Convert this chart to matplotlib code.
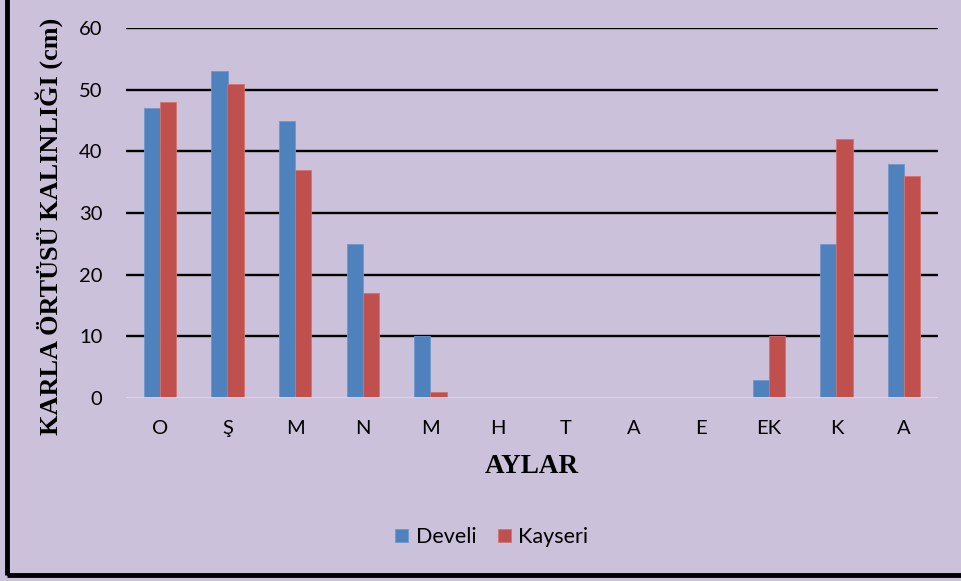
import matplotlib.pyplot as plt
import numpy as np
from matplotlib.patches import Rectangle

months = ['O', 'Ş', 'M', 'N', 'M', 'H', 'T', 'A', 'E', 'EK', 'K', 'A']
develi = [47, 53, 45, 25, 10, 0, 0, 0, 0, 3, 25, 38]
kayseri = [48, 51, 37, 17, 1, 0, 0, 0, 0, 10, 42, 36]

bg = '#CCC1DA'
blue = '#4F81BD'
red = '#C0504D'
sans = ['Lato', 'DejaVu Sans']
serif = ['Liberation Serif', 'DejaVu Serif']

fig = plt.figure(figsize=(9.61, 5.81), dpi=100)
fig.patch.set_facecolor(bg)

# thick frame around the whole chart
fig.add_artist(Rectangle((7 / 961, 6 / 581), 1.0, 0.994, transform=fig.transFigure,
                         fill=False, edgecolor='black', linewidth=3.5, clip_on=False))

ax = fig.add_axes([126 / 961, 183 / 581, 812 / 961, 370 / 581])
ax.set_facecolor(bg)

x = np.arange(len(months))
w = 0.24
ax.bar(x - w / 2, develi, w, color=blue, edgecolor='#6F97CC', linewidth=0.6, label='Develi', zorder=3)
ax.bar(x + w / 2, kayseri, w, color=red, edgecolor='#D07370', linewidth=0.6, label='Kayseri', zorder=3)

ax.set_xlim(-0.5, len(months) - 0.5)
ax.set_ylim(0, 60)
ax.set_yticks(range(0, 61, 10))
ax.set_xticks(x)
ax.set_xticklabels(months)

for v in range(10, 61, 10):
    ax.axhline(v, color='black', linewidth=1.7, zorder=1)
ax.axhline(0, color='#DCDCDC', linewidth=2, zorder=4)

for s in ax.spines.values():
    s.set_visible(False)

ax.tick_params(axis='both', length=0, labelsize=14.5)
ax.tick_params(axis='y', pad=17)
ax.tick_params(axis='x', pad=16)
for lab in ax.get_xticklabels() + ax.get_yticklabels():
    lab.set_family(sans)

ax.set_ylabel('KARLA ÖRTÜSÜ KALINLIĞI (cm)', family=serif, fontweight='bold', fontsize=18.9)
ax.yaxis.set_label_coords(-0.078, 0.465)
ax.set_xlabel('AYLAR', family=serif, fontweight='bold', fontsize=19.5, labelpad=12)

leg = fig.legend(loc='center', bbox_to_anchor=(492 / 961, 44 / 581), ncol=2,
                 frameon=False, prop={'family': sans, 'size': 15.5},
                 handlelength=0.6, handleheight=0.6, handletextpad=0.35,
                 columnspacing=1.0)

fig.savefig('out.png', dpi=100, facecolor=bg)
